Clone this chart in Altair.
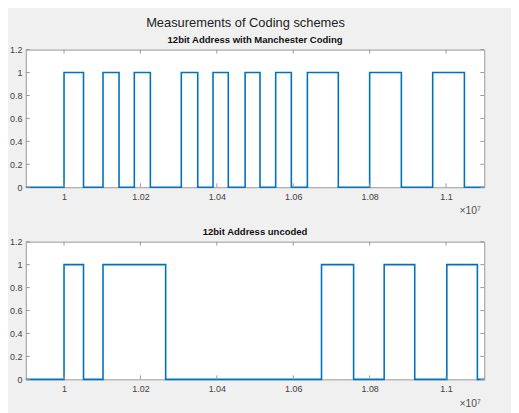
import altair as alt
import pandas as pd

# ---- data ----
main_title = "Measurements of Coding schemes"
titles = ["12bit Address with Manchester Coding", "12bit Address uncoded"]
x_exp = "×10⁷"

manch_t = [9900000, 10000000, 10051000, 10102000, 10144000, 10184000, 10226000,
           10307000, 10350000, 10390000, 10430000, 10474000, 10513000, 10554000,
           10595000, 10637000, 10718000, 10800000, 10883000, 10965000, 11048000,
           11100000]
manch_v = [0, 1, 0, 1, 0, 1, 0, 1, 0, 1, 0, 1, 0, 1, 0, 1, 0, 1, 0, 1, 0, 0]

unc_t = [9900000, 10000000, 10051000, 10102000, 10266000, 10674000, 10758000,
         10838000, 10918000, 11002000, 11082000, 11100000]
unc_v = [0, 1, 0, 1, 0, 1, 0, 1, 0, 1, 0, 0]

x_domain = [9900000, 11100000]
y_domain = [0, 1.2]
x_ticks = [10000000, 10200000, 10400000, 10600000, 10800000, 11000000]
y_ticks = [0, 0.2, 0.4, 0.6, 0.8, 1.0, 1.2]

W, H = 463, 139
FONT = "Liberation Sans"
BOX = "#9a9a9a"
LINE = "#0072BD"


def panel(t, v, title):
    df = pd.DataFrame({"t": t, "v": v})
    xs = alt.Scale(domain=x_domain, nice=False, zero=False)
    ys = alt.Scale(domain=y_domain, nice=False)
    x_axis = alt.Axis(
        values=x_ticks, labelExpr="format(datum.value/1e7,'~g')",
        ticks=False, domain=False, grid=False, labelFontSize=9,
        labelPadding=5, title=x_exp, titleAnchor="end", titleAlign="right",
        titleX=W - 4, titleY=27, titleBaseline="alphabetic",
        titleFontWeight="normal", titleFontSize=10.5, titleColor="#505050")
    y_axis = alt.Axis(
        values=y_ticks, format="~g", ticks=False, domain=False, grid=False,
        labelFontSize=9, labelPadding=4, title="")
    X = lambda: alt.X("t:Q", scale=xs, axis=x_axis, title=x_exp)
    Y = lambda: alt.Y("v:Q", scale=ys, axis=y_axis, title="")
    line = alt.Chart(df).mark_line(
        interpolate="step-after", color=LINE, strokeWidth=1.6
    ).encode(x=X(), y=Y())
    xt = pd.DataFrame({"t": x_ticks})
    yt = pd.DataFrame({"v": y_ticks})
    xb = alt.Chart(xt).mark_rule(color=BOX, strokeWidth=1).encode(
        x=X(), y=alt.value(H), y2=alt.value(H - 4))
    xtop = alt.Chart(xt).mark_rule(color=BOX, strokeWidth=1).encode(
        x=X(), y=alt.value(0), y2=alt.value(4))
    yl = alt.Chart(yt).mark_rule(color=BOX, strokeWidth=1).encode(
        y=Y(), x=alt.value(0), x2=alt.value(4))
    yr = alt.Chart(yt).mark_rule(color=BOX, strokeWidth=1).encode(
        y=Y(), x=alt.value(W), x2=alt.value(W - 4))
    return alt.layer(line, xb, xtop, yl, yr).properties(
        width=W, height=H,
        title=alt.TitleParams(title, fontSize=9.6, fontWeight="bold",
                              offset=1, color="#111111", font=FONT))


chart = alt.vconcat(
    panel(manch_t, manch_v, titles[0]),
    panel(unc_t, unc_v, titles[1]),
    spacing=55, bounds="flush",
).properties(
    title=alt.TitleParams(main_title, fontSize=13, fontWeight="normal",
                          anchor="middle", offset=5, dx=-3, color="#222222",
                          font=FONT),
    padding={"left": 0, "top": 6, "right": 23, "bottom": 5},
    background="#f0f0f0",
).configure_view(
    stroke=BOX, strokeWidth=1, fill="white"
).configure_axis(
    labelColor="#404040", labelFont=FONT, titleFont=FONT
)

chart.save("out.html", embed_options={"renderer": "svg", "actions": False})
